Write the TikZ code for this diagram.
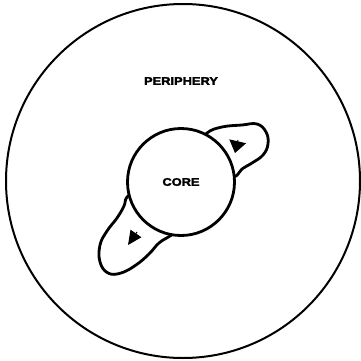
\documentclass[tikz,border=0pt]{standalone}
\usepackage{fontspec}
\usepackage{tikz}
\usetikzlibrary{arrows.meta,positioning,shapes.geometric}
\newfontfamily\lblfont[FakeStretch=1.17,FakeBold=2.5]{Liberation Sans}

\tikzset{
  lbl/.style={font=\lblfont\bfseries\fontsize{11}{13}\selectfont},
  lobe/.style={line width=2.8pt, fill=white, line join=round},
  flow/.style={line width=1pt, -{Triangle[length=12pt,width=17pt]}}
}

\begin{document}
\begin{tikzpicture}[x=1pt, y=-1pt]
    \useasboundingbox (0,0) rectangle (361,361);

    % Outer region
    \node[draw, circle, line width=2pt, minimum size=354pt, inner sep=0pt] (world) at (183,181) {};
    \node[lbl] (periphery) at (181,81) {PERIPHERY};

    % Lobes reaching out of the core (ends hidden under the core)
    \draw[lobe] plot[smooth, tension=0.7] coordinates {
        (198,146) (207,133) (222,127) (242,125) (257,124) (266,132)
        (268,144) (263,155) (252,163) (242,169) (236,176) (224,182)};
    \draw[lobe] plot[smooth, tension=0.7] coordinates {
        (138,188) (127,197) (124,206) (117,218) (107,231) (100,245)
        (100,262) (108,273) (121,273) (136,265) (149,254)
        (159,243) (170,236) (182,228)};

    % Core
    \node[draw, circle, fill=white, line width=2.8pt, minimum size=107pt, inner sep=0pt, lbl] (core) at (181,182) {CORE};

    % Flow arrows
    \coordinate (upA) at (238,140);
    \coordinate (upB) at (235,153);
    \coordinate (loA) at (137,232);
    \coordinate (loB) at (128,245);
    \draw[flow] (upA) -- (upB);
    \draw[flow, -{Triangle[length=14pt,width=13pt]}] (loA) -- (loB);
\end{tikzpicture}
\end{document}
